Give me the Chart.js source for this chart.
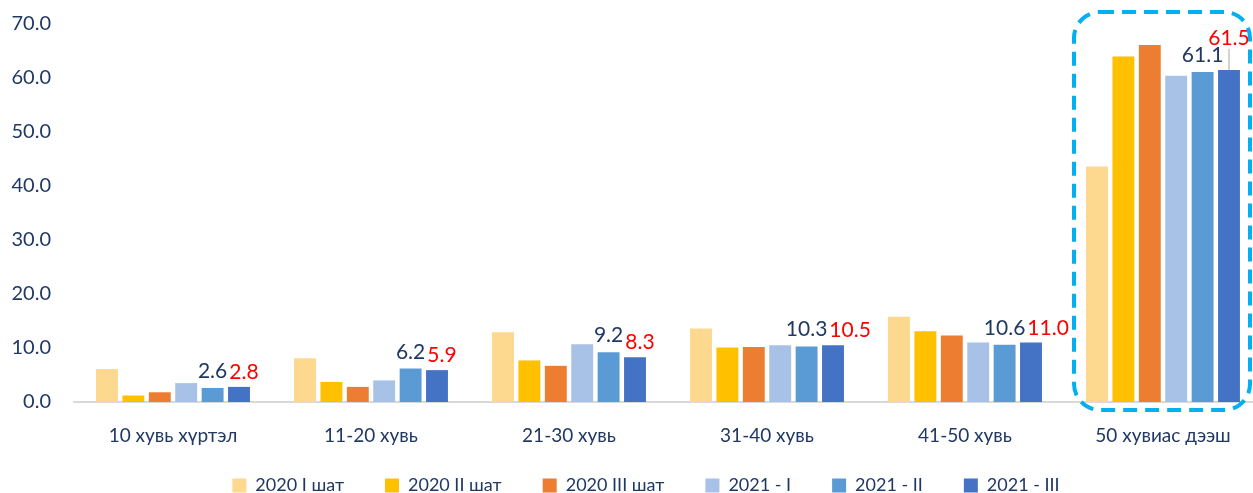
<!DOCTYPE html>
<html>
<head>
<meta charset="utf-8">
<script src="https://cdn.jsdelivr.net/npm/chart.js"></script>
<style>
  body { margin: 0; background: #fff; }
  /* o gráfico original passa um pouco da borda direita e de cima */
  #wrap { width: 1253px; height: 493px; overflow: hidden; position: relative; }
  #inner { position: absolute; left: 0; top: -11px; width: 1262px; height: 504px; }
</style>
</head>
<body>
<div id="wrap"><div id="inner"><canvas id="grafico"></canvas></div></div>
<script>
// categorias e séries
const categorias = ['10 хувь хүртэл', '11-20 хувь', '21-30 хувь', '31-40 хувь', '41-50 хувь', '50 хувиас дээш'];
const series = ['2020 I шат', '2020 II шат', '2020 III шат', '2021 - I', '2021 - II', '2021 - III'];
const v2020I   = [6.1, 8.1, 12.9, 13.6, 15.8, 43.6];
const v2020II  = [1.2, 3.7, 7.7, 10.1, 13.1, 64.0];
const v2020III = [1.8, 2.8, 6.7, 10.2, 12.3, 66.1];
const v2021I   = [3.5, 4.0, 10.7, 10.5, 11.0, 60.4];
const v2021II  = [2.6, 6.2, 9.2, 10.3, 10.6, 61.1];
const v2021III = [2.8, 5.9, 8.3, 10.5, 11.0, 61.5];
const yTicks = [0, 10, 20, 30, 40, 50, 60, 70];

const cores = ['#FDD88F', '#FFC000', '#ED7D31', '#A7C2E6', '#5B9BD5', '#4472C4'];
const valores = [v2020I, v2020II, v2020III, v2021I, v2021II, v2021III];
const corTexto = '#1F3864';
const fonte = 'Lato, "Open Sans", sans-serif';

// rótulos só nas duas últimas séries (2021 - II e 2021 - III)
const rotulos = {
    id: 'rotulos',
    afterDatasetsDraw(chart) {
        const ctx = chart.ctx;
        const barII = chart.getDatasetMeta(4).data;
        const barIII = chart.getDatasetMeta(5).data;
        const alt = 15; // altura aprox. dos algarismos
        const limite = 1253 - 2; // borda visível
        ctx.save();
        ctx.font = '21px ' + fonte;
        ctx.textAlign = 'center';
        ctx.textBaseline = 'alphabetic';
        categorias.forEach((c, i) => {
            const t2 = v2021II[i].toFixed(1);
            const t3 = v2021III[i].toFixed(1);
            const w2 = ctx.measureText(t2).width;
            const w3 = ctx.measureText(t3).width;
            const x2 = barII[i].x, y2 = barII[i].y - 10;
            let x3 = barIII[i].x, y3 = barIII[i].y - 8;

            ctx.fillStyle = corTexto;
            ctx.fillText(t2, x2, y2);

            // se encostar no outro rótulo, empurra pra direita
            const sobrepoeX = (x3 - w3 / 2) < (x2 + w2 / 2 + 2);
            const sobrepoeY = Math.abs(y3 - y2) < alt + 2;
            let linha = false;
            if (sobrepoeX && sobrepoeY) {
                x3 = x2 + w2 / 2 + 2 + w3 / 2;
                if (x3 + w3 / 2 > limite) {
                    // sem espaço: sobe o rótulo e puxa uma linha até a barra
                    x3 = barIII[i].x;
                    y3 = y2 - alt - 2;
                    linha = true;
                }
            }
            if (linha) {
                ctx.strokeStyle = '#A6A6A6';
                ctx.lineWidth = 1;
                ctx.beginPath();
                ctx.moveTo(x3, y3 + 4);
                ctx.lineTo(x3, barIII[i].y);
                ctx.stroke();
            }
            ctx.fillStyle = '#FF0000';
            ctx.fillText(t3, x3, y3);
        });
        ctx.restore();
    }
};

// moldura tracejada na última categoria
const moldura = {
    id: 'moldura',
    afterDraw(chart) {
        const x = chart.scales.x;
        const y = chart.scales.y;
        const ctx = chart.ctx;
        const cx = x.getPixelForValue(categorias.length - 1);
        const left = cx - 89, right = cx + 87;
        const top = y.getPixelForValue(70) - 12;
        const bottom = y.getPixelForValue(0) + 8;
        ctx.save();
        ctx.strokeStyle = '#00B0F0';
        ctx.lineWidth = 4;
        ctx.setLineDash([14, 8]);
        ctx.beginPath();
        ctx.roundRect(left, top, right - left, bottom - top, 26);
        ctx.stroke();
        ctx.restore();
    }
};

// ajusta altura e posição da legenda
const ajusteLegenda = {
    id: 'ajusteLegenda',
    beforeUpdate(chart) {
        const leg = chart.legend;
        if (leg && !leg._ajustada) {
            const fitOriginal = leg.fit.bind(leg);
            leg.fit = function () {
                fitOriginal();
                this.height = 47;
            };
            leg._ajustada = true;
        }
    },
    afterLayout(chart) {
        const leg = chart.legend;
        // a caixa da legenda sobe para caber o espaçamento largo entre itens
        leg.bottom = chart.height;
        leg.top = chart.height - 57.5;
        leg.height = leg.bottom - leg.top;
        leg.left += 15;
        leg.right += 15;
    }
};

new Chart(document.getElementById('grafico'), {
    type: 'bar',
    data: {
        labels: categorias,
        datasets: series.map((nome, i) => ({
            label: nome,
            data: valores[i],
            backgroundColor: cores[i],
            borderWidth: 0,
            categoryPercentage: 0.8,
            barPercentage: 0.83
        }))
    },
    options: {
        responsive: true,
        maintainAspectRatio: false,
        animation: false,
        layout: { padding: { top: 1, right: 0, left: 0, bottom: 0 } },
        plugins: {
            legend: {
                position: 'bottom',
                labels: {
                    boxWidth: 14,
                    boxHeight: 14,
                    padding: 41,
                    color: corTexto,
                    font: { family: fonte, size: 18 }
                }
            },
            tooltip: { enabled: false }
        },
        scales: {
            x: {
                grid: { display: false, drawTicks: false },
                border: { color: '#D9D9D9', width: 2 },
                ticks: { color: corTexto, font: { family: fonte, size: 19 }, padding: 22 },
                afterFit: axis => { axis.height = 44; }
            },
            y: {
                min: 0,
                max: 70,
                afterBuildTicks: axis => { axis.ticks = yTicks.map(v => ({ value: v })); },
                afterFit: axis => { axis.width = 74; },
                grid: { display: false, drawTicks: false },
                border: { display: false },
                ticks: {
                    color: corTexto,
                    padding: 23,
                    font: { family: fonte, size: 20 },
                    callback: v => Number(v).toFixed(1)
                }
            }
        }
    },
    plugins: [rotulos, moldura, ajusteLegenda]
});
</script>
</body>
</html>
